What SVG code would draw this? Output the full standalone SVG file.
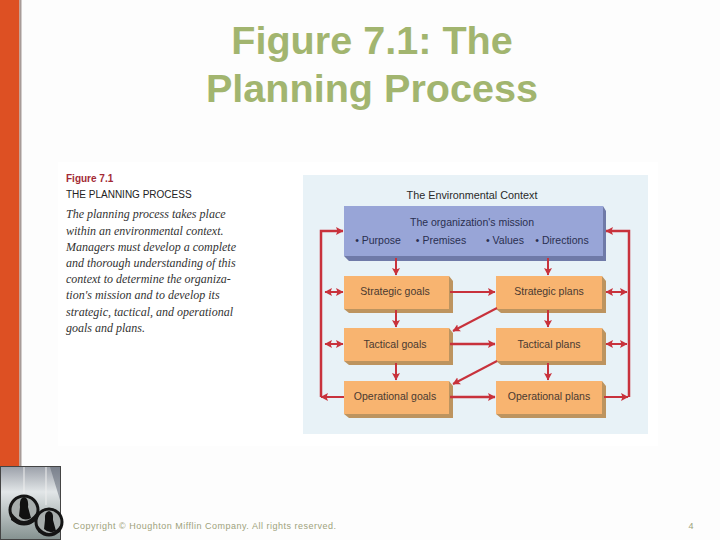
<svg xmlns="http://www.w3.org/2000/svg" width="720" height="540" viewBox="0 0 720 540">
<defs>
<marker id="ah" markerUnits="userSpaceOnUse" markerWidth="8" markerHeight="9" refX="7" refY="4.500" orient="auto-start-reverse"><path d="M0,0.500 L7.500,4.500 L0,8.500 L1.500,4.500 Z" fill="#c8323c"/></marker>
<linearGradient id="ph" x1="0" y1="0" x2="0" y2="1"><stop offset="0" stop-color="#9a9fa8"/><stop offset="0.35" stop-color="#e2e6e8"/><stop offset="1" stop-color="#84918f"/></linearGradient>
</defs>
<style>
.t{font-family:"Liberation Sans",Arial,sans-serif}
.n{font-family:"Liberation Sans",Arial,sans-serif;font-size:10.5px;fill:#4a3a30;text-anchor:middle}
.m{font-family:"Liberation Sans",Arial,sans-serif;font-size:10.5px;fill:#2a2f50;text-anchor:middle}
.b{font-family:"Liberation Serif",serif;font-style:italic;font-size:12px;fill:#333}
.c line,.c path{stroke:#c8323c;stroke-width:2;fill:none}
.c .o{stroke-width:2.500}
.c .w{stroke-width:2.500}
.box{fill:#f8b470}.bs{fill:#bd945f}
</style>
<rect width="720" height="540" fill="#fdfdfd"/>
<rect x="58" y="162" width="600" height="284" fill="#ffffff"/>
<rect x="0" y="0" width="19.500" height="466" fill="#dd5023"/>
<rect x="19.500" y="0" width="2" height="466" fill="#a89c98"/>
<g id="title" class="t" font-size="39.600" font-weight="bold" fill="#a2b56f" text-anchor="middle">
<text x="372" y="54">Figure 7.1: The</text>
<text x="372" y="102">Planning Process</text>
</g>
<g id="logo">
<rect x="0" y="466" width="61" height="74" fill="url(#ph)"/>
<rect x="0.500" y="466.500" width="60" height="73" fill="none" stroke="#444"/>
<polygon points="50,467 60,467 60,500" fill="#5a6270" opacity="0.500"/>
<line x1="24" y1="467" x2="24" y2="495" stroke="#eeeeee"/><line x1="46" y1="467" x2="46" y2="505" stroke="#eeeeee"/>
<circle cx="24" cy="510" r="14" fill="#a7adac" stroke="#151515" stroke-width="3"/>
<circle cx="49" cy="522" r="13" fill="#a7adac" stroke="#151515" stroke-width="3"/>
<path d="M11,512 Q24,530 37,512 L37,520 Q24,530 11,520 Z" fill="#151515"/>
<path d="M38,526 Q49,540 60,526 L60,532 Q49,538 38,532 Z" fill="#151515"/>
<path d="M19,516 L20,507 Q19,498 24,497 Q29,498 28,507 L31,518 Q24,522 19,516 Z" fill="#111"/>
<path d="M44,529 L45,520 Q44,512 49,511 Q54,512 53,520 L56,531 Q49,534 44,529 Z" fill="#111"/>
</g>
<g id="caption">
<text class="t" x="66" y="182" font-size="10" font-weight="bold" fill="#a32a35">Figure 7.1</text>
<text class="t" x="66" y="198" font-size="10" fill="#222">THE PLANNING PROCESS</text>
<text class="b" x="66" y="218">The planning process takes place</text>
<text class="b" x="66" y="234.500">within an environmental context.</text>
<text class="b" x="66" y="250.500">Managers must develop a complete</text>
<text class="b" x="66" y="266.500">and thorough understanding of this</text>
<text class="b" x="66" y="283">context to determine the organiza-</text>
<text class="b" x="66" y="299">tion's mission and to develop its</text>
<text class="b" x="66" y="315.500">strategic, tactical, and operational</text>
<text class="b" x="66" y="332">goals and plans.</text>
</g>
<rect x="303" y="175" width="345" height="259" fill="#e8f2f7"/>
<text class="t" x="472" y="199" font-size="10.800" fill="#2a2a2a" text-anchor="middle">The Environmental Context</text>
<g id="mission">
<polygon points="344,256 349,261 606,261 606,211 603,206 603,256" fill="#6f7aa8"/>
<rect x="344" y="206" width="259" height="50" fill="#98a5d7"/>
<text class="m" x="472" y="226">The organization's mission</text>
<text class="m" x="378" y="244">• Purpose</text><text class="m" x="441" y="244">• Premises</text><text class="m" x="505" y="244">• Values</text><text class="m" x="562" y="244">• Directions</text>
</g>
<g id="strategic-goals"><polygon points="344,309 349,313 453,313 453,281 449,276 449,309" class="bs"/><rect x="344" y="276" width="105" height="33" class="box"/><text class="n" x="395" y="295">Strategic goals</text></g>
<g id="strategic-plans"><polygon points="496,309 501,313 606,313 606,281 602,276 602,309" class="bs"/><rect x="496" y="276" width="106" height="33" class="box"/><text class="n" x="549" y="295">Strategic plans</text></g>
<g id="tactical-goals"><polygon points="344,361 349,365 453,365 453,333 449,328 449,361" class="bs"/><rect x="344" y="328" width="105" height="33" class="box"/><text class="n" x="395" y="348">Tactical goals</text></g>
<g id="tactical-plans"><polygon points="496,361 501,365 606,365 606,333 602,328 602,361" class="bs"/><rect x="496" y="328" width="106" height="33" class="box"/><text class="n" x="549" y="348">Tactical plans</text></g>
<g id="operational-goals"><polygon points="344,414 349,418 453,418 453,386 449,381 449,414" class="bs"/><rect x="344" y="381" width="105" height="33" class="box"/><text class="n" x="395" y="400">Operational goals</text></g>
<g id="operational-plans"><polygon points="496,414 501,418 606,418 606,386 602,381 602,414" class="bs"/><rect x="496" y="381" width="106" height="33" class="box"/><text class="n" x="549" y="400">Operational plans</text></g>
<g id="connectors" class="c">
<path class="o" d="M321,397 V231 H343" marker-end="url(#ah)"/>
<path d="M344,397 H321" marker-end="url(#ah)"/>
<line x1="325" y1="292" x2="343" y2="292" marker-start="url(#ah)" marker-end="url(#ah)"/>
<line x1="325" y1="344" x2="343" y2="344" marker-start="url(#ah)" marker-end="url(#ah)"/>
<path class="o" d="M629,397 V231 H606" marker-end="url(#ah)"/>
<path d="M604,397 H628" marker-end="url(#ah)"/>
<line x1="606" y1="292" x2="627" y2="292" marker-start="url(#ah)" marker-end="url(#ah)"/>
<line x1="606" y1="344" x2="627" y2="344" marker-start="url(#ah)" marker-end="url(#ah)"/>
<line x1="396" y1="258" x2="396" y2="275" marker-end="url(#ah)"/>
<line x1="548" y1="258" x2="548" y2="275" marker-end="url(#ah)"/>
<line x1="396" y1="310" x2="396" y2="327" marker-end="url(#ah)"/>
<line x1="548" y1="310" x2="548" y2="327" marker-end="url(#ah)"/>
<line x1="396" y1="363" x2="396" y2="380" marker-end="url(#ah)"/>
<line x1="548" y1="363" x2="548" y2="380" marker-end="url(#ah)"/>
<line x1="450" y1="292" x2="495" y2="292" marker-end="url(#ah)"/>
<line class="w" x1="450" y1="344" x2="495" y2="344" marker-end="url(#ah)"/>
<line class="w" x1="450" y1="397" x2="495" y2="397" marker-end="url(#ah)"/>
<line x1="497" y1="308" x2="453" y2="331" marker-end="url(#ah)"/>
<line x1="497" y1="361" x2="453" y2="384" marker-end="url(#ah)"/>
</g>
<text class="t" x="73" y="529" font-size="9" letter-spacing="0.500" fill="#9da27c">Copyright © Houghton Mifflin Company. All rights reserved.</text>
<text class="t" x="691" y="529" font-size="9" fill="#9da27c" text-anchor="middle">4</text>
</svg>
